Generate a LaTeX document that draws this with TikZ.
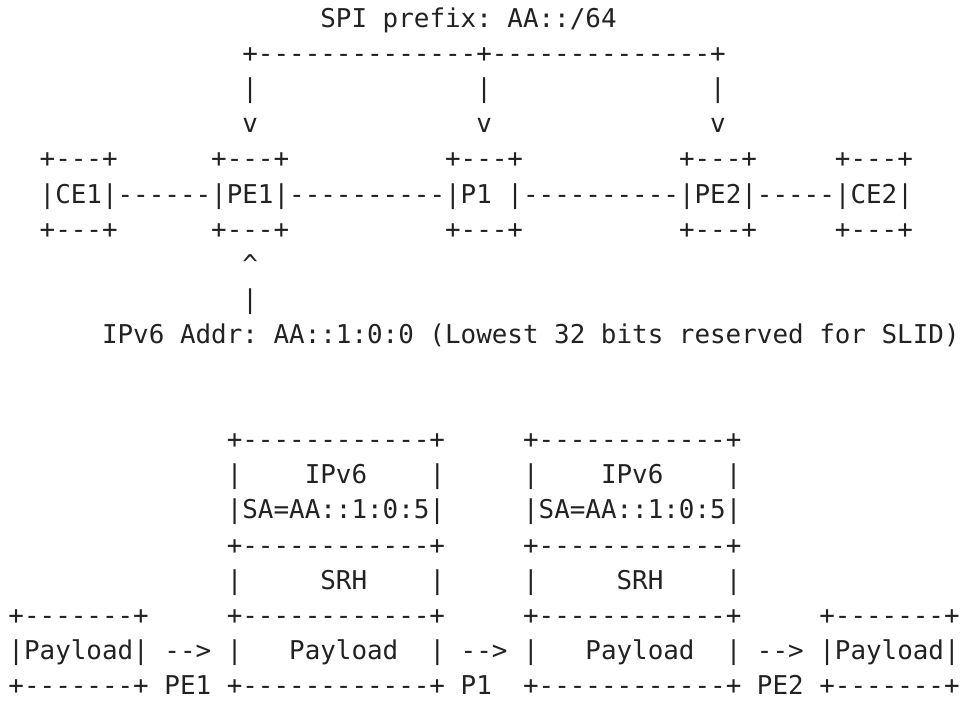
\documentclass[tikz,border=0pt]{standalone}
\usepackage{fontspec}
\setmonofont{DejaVu Sans Mono}
\definecolor{ink}{HTML}{222222}
\begin{document}
\begin{tikzpicture}[x=15.593pt,y=-35.1pt,
  asc/.style={anchor=base west,inner sep=0pt,outer sep=0pt,text=ink,text depth=0pt,
    font=\ttfamily\fontsize{25.9pt}{30pt}\selectfont}]
\useasboundingbox (0pt,0pt) rectangle (961pt,-702pt);
\begin{scope}[xshift=8.5pt,yshift=-27.5pt]
% ---- top part: SPI prefix distribution ----
\node[asc] (spi) at (20,0) {SPI prefix: AA::/64};
\node[asc] (bus) at (15,1) {+--------------+--------------+};
\node[asc] (d1a) at (15,2) {|};
\node[asc] (d2a) at (30,2) {|};
\node[asc] (d3a) at (45,2) {|};
\node[asc] (d1b) at (15,3) {v};
\node[asc] (d2b) at (30,3) {v};
\node[asc] (d3b) at (45,3) {v};
% boxes top edges
\node[asc] (ce1t) at (2,4) {+---+};
\node[asc] (pe1t) at (13,4) {+---+};
\node[asc] (p1t) at (28,4) {+---+};
\node[asc] (pe2t) at (43,4) {+---+};
\node[asc] (ce2t) at (53,4) {+---+};
% boxes and links
\node[asc] (ce1) at (2,5) {|CE1|};
\node[asc] (l1) at (7,5) {------};
\node[asc] (pe1) at (13,5) {|PE1|};
\node[asc] (l2) at (18,5) {----------};
\node[asc] (p1) at (28,5) {|P1};
\node[asc] (p1r) at (32,5) {|};
\node[asc] (l3) at (33,5) {----------};
\node[asc] (pe2) at (43,5) {|PE2|};
\node[asc] (l4) at (48,5) {-----};
\node[asc] (ce2) at (53,5) {|CE2|};
% boxes bottom edges
\node[asc] (ce1b) at (2,6) {+---+};
\node[asc] (pe1b) at (13,6) {+---+};
\node[asc] (p1b) at (28,6) {+---+};
\node[asc] (pe2b) at (43,6) {+---+};
\node[asc] (ce2b) at (53,6) {+---+};
% address pointer
\node[asc] (up) at (15,7) {\textasciicircum};
\node[asc] (upl) at (15,8) {|};
\node[asc] (addr) at (6,9) {IPv6 Addr: AA::1:0:0 (Lowest 32 bits reserved for SLID)};
% ---- bottom part: packet flow ----
\node[asc] (a12) at (14,12) {+------------+};
\node[asc] (b12) at (33,12) {+------------+};
\node[asc] (a13l) at (14,13) {|};
\node[asc] (a13) at (19,13) {IPv6};
\node[asc] (a13r) at (27,13) {|};
\node[asc] (b13l) at (33,13) {|};
\node[asc] (b13) at (38,13) {IPv6};
\node[asc] (b13r) at (46,13) {|};
\node[asc] (a14) at (14,14) {|SA=AA::1:0:5|};
\node[asc] (b14) at (33,14) {|SA=AA::1:0:5|};
\node[asc] (a15) at (14,15) {+------------+};
\node[asc] (b15) at (33,15) {+------------+};
\node[asc] (a16l) at (14,16) {|};
\node[asc] (a16) at (20,16) {SRH};
\node[asc] (a16r) at (27,16) {|};
\node[asc] (b16l) at (33,16) {|};
\node[asc] (b16) at (39,16) {SRH};
\node[asc] (b16r) at (46,16) {|};
\node[asc] (x17) at (0,17) {+-------+};
\node[asc] (a17) at (14,17) {+------------+};
\node[asc] (b17) at (33,17) {+------------+};
\node[asc] (y17) at (52,17) {+-------+};
\node[asc] (x18) at (0,18) {|Payload|};
\node[asc] (ar1) at (10,18) {-->};
\node[asc] (a18l) at (14,18) {|};
\node[asc] (a18) at (18,18) {Payload};
\node[asc] (a18r) at (27,18) {|};
\node[asc] (ar2) at (29,18) {-->};
\node[asc] (b18l) at (33,18) {|};
\node[asc] (b18) at (37,18) {Payload};
\node[asc] (b18r) at (46,18) {|};
\node[asc] (ar3) at (48,18) {-->};
\node[asc] (y18) at (52,18) {|Payload|};
\node[asc] (x19) at (0,19) {+-------+};
\node[asc] (lpe1) at (10,19) {PE1};
\node[asc] (a19) at (14,19) {+------------+};
\node[asc] (lp1) at (29,19) {P1};
\node[asc] (b19) at (33,19) {+------------+};
\node[asc] (lpe2) at (48,19) {PE2};
\node[asc] (y19) at (52,19) {+-------+};
\end{scope}
\end{tikzpicture}
\end{document}
